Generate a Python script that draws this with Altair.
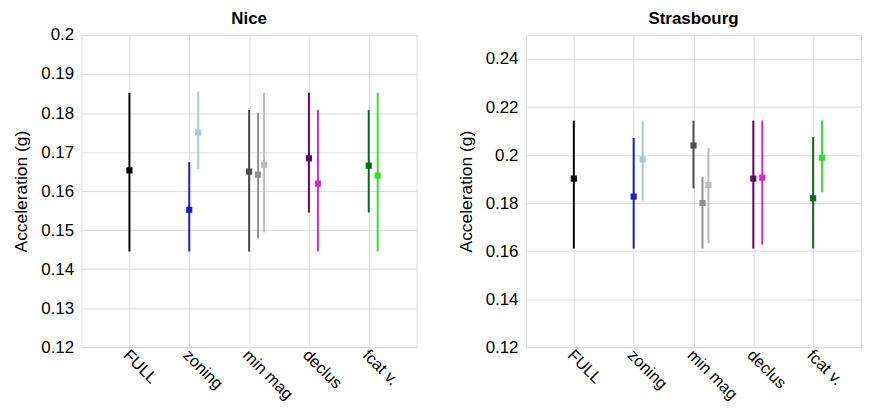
import altair as alt
import pandas as pd

categories = ["FULL", "zoning", "min mag", "declus", "fcat v."]

# one entry per error bar (series), in drawing order
series_category = [1, 2, 2, 3, 3, 3, 4, 4, 5, 5]
series_dodge = [0, 0, 0.15, 0, 0.15, 0.25, 0, 0.15, 0, 0.15]
series_color = ["#000000", "#1c1cc8", "#a9c7de", "#4d4d4d", "#8f8f8f", "#bdbdbd",
                "#5e0b5e", "#e01fe0", "#0b6a1f", "#2fe02f"]

nice_mid = [0.1653, 0.1552, 0.1750, 0.1650, 0.1642, 0.1667, 0.1684, 0.1619, 0.1665, 0.1640]
nice_low = [0.1445, 0.1445, 0.1657, 0.1445, 0.1479, 0.1494, 0.1545, 0.1445, 0.1545, 0.1445]
nice_high = [0.1852, 0.1674, 0.1855, 0.1808, 0.1800, 0.1852, 0.1852, 0.1808, 0.1808, 0.1852]

stras_mid = [0.1902, 0.1827, 0.1982, 0.2040, 0.1800, 0.1875, 0.1902, 0.1906, 0.1820, 0.1989]
stras_low = [0.1611, 0.1611, 0.1810, 0.1861, 0.1611, 0.1632, 0.1611, 0.1627, 0.1611, 0.1845]
stras_high = [0.2144, 0.2071, 0.2144, 0.2144, 0.1910, 0.2030, 0.2144, 0.2144, 0.2075, 0.2144]

nice_yticks = [0.12, 0.13, 0.14, 0.15, 0.16, 0.17, 0.18, 0.19, 0.2]
stras_yticks = [0.12, 0.14, 0.16, 0.18, 0.2, 0.22, 0.24]

panel_titles = ["Nice", "Strasbourg"]

FONT = "Liberation Sans"
W, H = 337, 314
label_expr = "['FULL','zoning','min mag','declus','fcat v.'][datum.value - 1]"


def make_df(mid, low, high):
    return pd.DataFrame({
        "x": [c + d for c, d in zip(series_category, series_dodge)],
        "mid": mid, "low": low, "high": high, "color": series_color,
    })


def panel(df, title, ydomain, yticks):
    xs = alt.Scale(domain=[0.2, 5.8], nice=False, zero=False)
    ys = alt.Scale(domain=ydomain, nice=False, zero=False)
    xaxis = alt.Axis(values=[1, 2, 3, 4, 5], labelExpr=label_expr, title=None,
                     labelAngle=45, labelAlign="left", labelBaseline="middle",
                     labelPadding=5, labelOffset=-4, grid=True, ticks=False,
                     domain=False, labelFontSize=16.5, labelOverlap=False)
    yaxis = alt.Axis(values=yticks, format="~g", title="Acceleration (g)",
                     grid=True, ticks=False, domain=False, labelPadding=8,
                     minExtent=42, maxExtent=42, titlePadding=9,
                     labelFontSize=17, titleFontSize=17.5, titleFontWeight="normal",
                     labelOverlap=False)
    base = alt.Chart(df)
    rules = base.mark_rule(strokeWidth=2).encode(
        x=alt.X("x:Q", scale=xs, axis=xaxis),
        y=alt.Y("low:Q", scale=ys, axis=yaxis),
        y2="high:Q",
        color=alt.Color("color:N", scale=None),
    )
    pts = base.mark_square(size=38, opacity=1).encode(
        x=alt.X("x:Q", scale=xs, axis=xaxis),
        y=alt.Y("mid:Q", scale=ys, axis=yaxis),
        color=alt.Color("color:N", scale=None),
    )
    ttl = alt.Chart(pd.DataFrame({"t": [title]})).mark_text(
        font=FONT, fontSize=17, fontWeight="bold", color="#000000",
        align="center", baseline="bottom",
    ).encode(text="t:N", x=alt.value(W / 2), y=alt.value(-7))
    return alt.layer(rules, pts, ttl).properties(width=W, height=H)


left = panel(make_df(nice_mid, nice_low, nice_high), panel_titles[0], [0.12, 0.2], nice_yticks)
right = panel(make_df(stras_mid, stras_low, stras_high), panel_titles[1], [0.12, 0.25], stras_yticks)

chart = alt.hconcat(left, right, spacing=39).properties(
    padding={"left": 4, "top": 0, "right": 0, "bottom": 0}
).configure_view(
    stroke="#262626", strokeWidth=1
).configure_axis(
    labelFont=FONT, titleFont=FONT, labelColor="#262626", titleColor="#262626",
    gridColor="#e6e6e6", gridWidth=1,
).configure(background="white")

chart.save("out.html", embed_options={"renderer": "svg", "actions": False})
